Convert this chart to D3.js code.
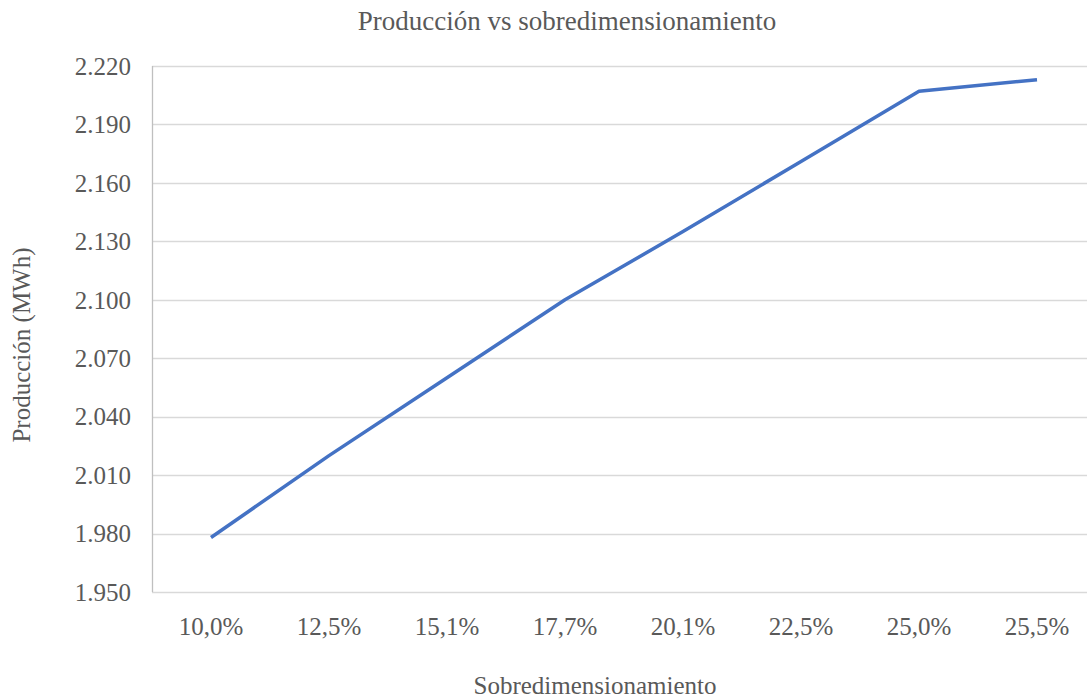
<!DOCTYPE html>
<meta charset="utf-8">
<style>
body { margin: 0; background: #fff; }
text { font-family: "Liberation Serif", "Times New Roman", serif; fill: #595959; }
.grid line { stroke: #d9d9d9; stroke-width: 1.3px; }
.axis path, .axis line { stroke: #bfbfbf; }
</style>
<svg width="1087" height="698"></svg>
<script src="https://d3js.org/d3.v7.min.js"></script>
<script>

var categories = ["10,0%", "12,5%", "15,1%", "17,7%", "20,1%", "22,5%", "25,0%", "25,5%"];
var produccion = [1978, 2020, 2060, 2100, 2135, 2171, 2207, 2213];
var yTicks = [1950, 1980, 2010, 2040, 2070, 2100, 2130, 2160, 2190, 2220];

var svg = d3.select("svg");

var es = d3.formatLocale({decimal: ",", thousands: ".", grouping: [3], currency: ["", "€"]});
var fmt = es.format(",d");

var x = d3.scaleBand()
    .domain(categories)
    .range([152, 1096]);

var y = d3.scaleLinear()
    .domain([1950, 2220])
    .range([592, 66]);

// gridlines
svg.append("g")
    .attr("class", "grid")
  .selectAll("line")
  .data(yTicks)
  .enter().append("line")
    .attr("x1", 152)
    .attr("x2", 1096)
    .attr("y1", function(d) { return Math.round(y(d)) + 0.5; })
    .attr("y2", function(d) { return Math.round(y(d)) + 0.5; });

// left axis line
svg.append("line")
    .attr("x1", 152.5).attr("x2", 152.5)
    .attr("y1", y(2220)).attr("y2", y(1950))
    .style("stroke", "#bfbfbf")
    .style("stroke-width", 1.3);

// y tick labels
svg.append("g")
  .selectAll("text")
  .data(yTicks)
  .enter().append("text")
    .attr("x", 131)
    .attr("y", function(d) { return y(d); })
    .attr("dy", "0.35em")
    .attr("text-anchor", "end")
    .style("font-size", "25px")
    .text(function(d) { return fmt(d); });

// x tick labels
svg.append("g")
  .selectAll("text")
  .data(categories)
  .enter().append("text")
    .attr("x", function(d) { return x(d) + x.bandwidth() / 2; })
    .attr("y", 635)
    .attr("text-anchor", "middle")
    .style("font-size", "25px")
    .text(function(d) { return d; });

var line = d3.line()
    .x(function(d, i) { return x(categories[i]) + x.bandwidth() / 2; })
    .y(function(d) { return y(d); });

svg.append("path")
    .datum(produccion)
    .attr("d", line)
    .style("fill", "none")
    .style("stroke", "#4472c4")
    .style("stroke-width", 3.5)
    .style("stroke-linejoin", "round");

// titles
svg.append("text")
    .attr("x", 567)
    .attr("y", 30)
    .attr("text-anchor", "middle")
    .style("font-size", "27px")
    .text("Producción vs sobredimensionamiento");

svg.append("text")
    .attr("x", 595)
    .attr("y", 694)
    .attr("text-anchor", "middle")
    .style("font-size", "25px")
    .text("Sobredimensionamiento");

svg.append("text")
    .attr("transform", "translate(30,345) rotate(-90)")
    .attr("text-anchor", "middle")
    .style("font-size", "25px")
    .text("Producción (MWh)");

</script>
